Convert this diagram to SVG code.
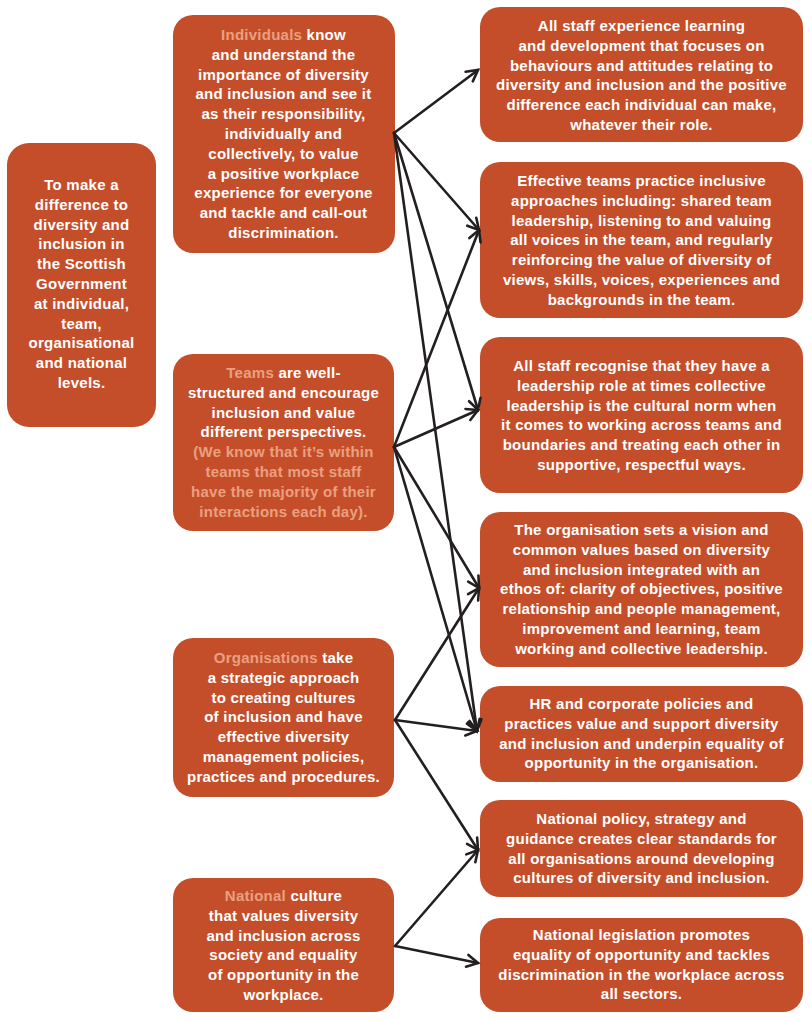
<svg xmlns="http://www.w3.org/2000/svg" width="812" height="1021" viewBox="0 0 812 1021">
<style>
.box{fill:#C54E2A}
.t{font-family:"Liberation Sans",Arial,sans-serif;font-weight:bold;font-size:15px;letter-spacing:0.25px;fill:#FFFFFF;text-anchor:middle}
.h{fill:#E9A081}
.c{stroke:#231F20;stroke-width:2.6;fill:none;stroke-linecap:round;marker-end:url(#ah)}
</style>
<defs>
<marker id="ah" markerUnits="userSpaceOnUse" markerWidth="16" markerHeight="16" viewBox="-12 -8 14 16" refX="0" refY="0" orient="auto">
<path d="M-11,-6 L0,0 L-11,6" fill="none" stroke="#231F20" stroke-width="2.6" stroke-linecap="round" stroke-linejoin="miter"/>
</marker>
</defs>
<rect width="812" height="1021" fill="#FFFFFF"/>

<g id="goal">
<rect class="box" x="7" y="143" width="149" height="284" rx="22"/>
<text class="t"><tspan x="81.5" y="190">To make a</tspan><tspan x="81.5" y="209.8">difference to</tspan><tspan x="81.5" y="229.6">diversity and</tspan><tspan x="81.5" y="249.4">inclusion in</tspan><tspan x="81.5" y="269.2">the Scottish</tspan><tspan x="81.5" y="289">Government</tspan><tspan x="81.5" y="308.8">at individual,</tspan><tspan x="81.5" y="328.6">team,</tspan><tspan x="81.5" y="348.4">organisational</tspan><tspan x="81.5" y="368.2">and national</tspan><tspan x="81.5" y="388">levels.</tspan></text>
</g>

<g id="individuals">
<rect class="box" x="173" y="15" width="222" height="238" rx="20"/>
<text class="t"><tspan x="283.5" y="40"><tspan class="h">Individuals</tspan> know</tspan><tspan x="283.5" y="59.8">and understand the</tspan><tspan x="283.5" y="79.6">importance of diversity</tspan><tspan x="283.5" y="99.4">and inclusion and see it</tspan><tspan x="283.5" y="119.2">as their responsibility,</tspan><tspan x="283.5" y="139">individually and</tspan><tspan x="283.5" y="158.8">collectively, to value</tspan><tspan x="283.5" y="178.6">a positive workplace</tspan><tspan x="283.5" y="198.4">experience for everyone</tspan><tspan x="283.5" y="218.2">and tackle and call-out</tspan><tspan x="283.5" y="238">discrimination.</tspan></text>
</g>

<g id="teams">
<rect class="box" x="173" y="354" width="221" height="177" rx="20"/>
<text class="t"><tspan x="283.5" y="378"><tspan class="h">Teams</tspan> are well-</tspan><tspan x="283.5" y="397.8">structured and encourage</tspan><tspan x="283.5" y="417.6">inclusion and value</tspan><tspan x="283.5" y="437.4">different perspectives.</tspan><tspan class="h" x="283.5" y="457.2">(We know that it’s within</tspan><tspan class="h" x="283.5" y="477">teams that most staff</tspan><tspan class="h" x="283.5" y="496.8">have the majority of their</tspan><tspan class="h" x="283.5" y="516.6">interactions each day).</tspan></text>
</g>

<g id="organisations">
<rect class="box" x="173" y="638" width="221" height="159" rx="20"/>
<text class="t"><tspan x="283.5" y="663"><tspan class="h">Organisations</tspan> take</tspan><tspan x="283.5" y="682.8">a strategic approach</tspan><tspan x="283.5" y="702.6">to creating cultures</tspan><tspan x="283.5" y="722.4">of inclusion and have</tspan><tspan x="283.5" y="742.2">effective diversity</tspan><tspan x="283.5" y="762">management policies,</tspan><tspan x="283.5" y="781.8">practices and procedures.</tspan></text>
</g>

<g id="national">
<rect class="box" x="173" y="878" width="221" height="134" rx="20"/>
<text class="t"><tspan x="283.5" y="901"><tspan class="h">National</tspan> culture</tspan><tspan x="283.5" y="920.8">that values diversity</tspan><tspan x="283.5" y="940.6">and inclusion across</tspan><tspan x="283.5" y="960.4">society and equality</tspan><tspan x="283.5" y="980.2">of opportunity in the</tspan><tspan x="283.5" y="1000">workplace.</tspan></text>
</g>

<g id="o1">
<rect class="box" x="480" y="7" width="323" height="135" rx="20"/>
<text class="t"><tspan x="641.5" y="31">All staff experience learning</tspan><tspan x="641.5" y="50.8">and development that focuses on</tspan><tspan x="641.5" y="70.6">behaviours and attitudes relating to</tspan><tspan x="641.5" y="90.4">diversity and inclusion and the positive</tspan><tspan x="641.5" y="110.2">difference each individual can make,</tspan><tspan x="641.5" y="130">whatever their role.</tspan></text>
</g>

<g id="o2">
<rect class="box" x="480" y="162" width="323" height="156" rx="20"/>
<text class="t"><tspan x="641.5" y="186">Effective teams practice inclusive</tspan><tspan x="641.5" y="205.8">approaches including: shared team</tspan><tspan x="641.5" y="225.6">leadership, listening to and valuing</tspan><tspan x="641.5" y="245.4">all voices in the team, and regularly</tspan><tspan x="641.5" y="265.2">reinforcing the value of diversity of</tspan><tspan x="641.5" y="285">views, skills, voices, experiences and</tspan><tspan x="641.5" y="304.8">backgrounds in the team.</tspan></text>
</g>

<g id="o3">
<rect class="box" x="480" y="337" width="323" height="156" rx="20"/>
<text class="t"><tspan x="641.5" y="371">All staff recognise that they have a</tspan><tspan x="641.5" y="390.8">leadership role at times collective</tspan><tspan x="641.5" y="410.6">leadership is the cultural norm when</tspan><tspan x="641.5" y="430.4">it comes to working across teams and</tspan><tspan x="641.5" y="450.2">boundaries and treating each other in</tspan><tspan x="641.5" y="470">supportive, respectful ways.</tspan></text>
</g>

<g id="o4">
<rect class="box" x="480" y="512" width="323" height="155" rx="20"/>
<text class="t"><tspan x="641.5" y="535">The organisation sets a vision and</tspan><tspan x="641.5" y="554.8">common values based on diversity</tspan><tspan x="641.5" y="574.6">and inclusion integrated with an</tspan><tspan x="641.5" y="594.4">ethos of: clarity of objectives, positive</tspan><tspan x="641.5" y="614.2">relationship and people management,</tspan><tspan x="641.5" y="634">improvement and learning, team</tspan><tspan x="641.5" y="653.8">working and collective leadership.</tspan></text>
</g>

<g id="o5">
<rect class="box" x="480" y="686" width="323" height="96" rx="20"/>
<text class="t"><tspan x="641.5" y="709">HR and corporate policies and</tspan><tspan x="641.5" y="728.8">practices value and support diversity</tspan><tspan x="641.5" y="748.6">and inclusion and underpin equality of</tspan><tspan x="641.5" y="768.4">opportunity in the organisation.</tspan></text>
</g>

<g id="o6">
<rect class="box" x="480" y="800" width="323" height="97" rx="20"/>
<text class="t"><tspan x="641.5" y="824">National policy, strategy and</tspan><tspan x="641.5" y="843.8">guidance creates clear standards for</tspan><tspan x="641.5" y="863.6">all organisations around developing</tspan><tspan x="641.5" y="883.4">cultures of diversity and inclusion.</tspan></text>
</g>

<g id="o7">
<rect class="box" x="480" y="918" width="323" height="94" rx="20"/>
<text class="t"><tspan x="641.5" y="940">National legislation promotes</tspan><tspan x="641.5" y="959.8">equality of opportunity and tackles</tspan><tspan x="641.5" y="979.6">discrimination in the workplace across</tspan><tspan x="641.5" y="999.4">all sectors.</tspan></text>
</g>

<g id="connectors">
<path class="c" d="M394,133 L478,70"/>
<path class="c" d="M394,133 L479,230"/>
<path class="c" d="M394,133 L478,410"/>
<path class="c" d="M394,133 L477,731"/>
<path class="c" d="M394,447 L479,230"/>
<path class="c" d="M394,447 L478,410"/>
<path class="c" d="M394,447 L479,588"/>
<path class="c" d="M394,447 L477,731"/>
<path class="c" d="M395,720 L479,588"/>
<path class="c" d="M395,720 L477,731"/>
<path class="c" d="M395,720 L478,850"/>
<path class="c" d="M395,946 L478,850"/>
<path class="c" d="M395,946 L478,963"/>
</g>
</svg>
